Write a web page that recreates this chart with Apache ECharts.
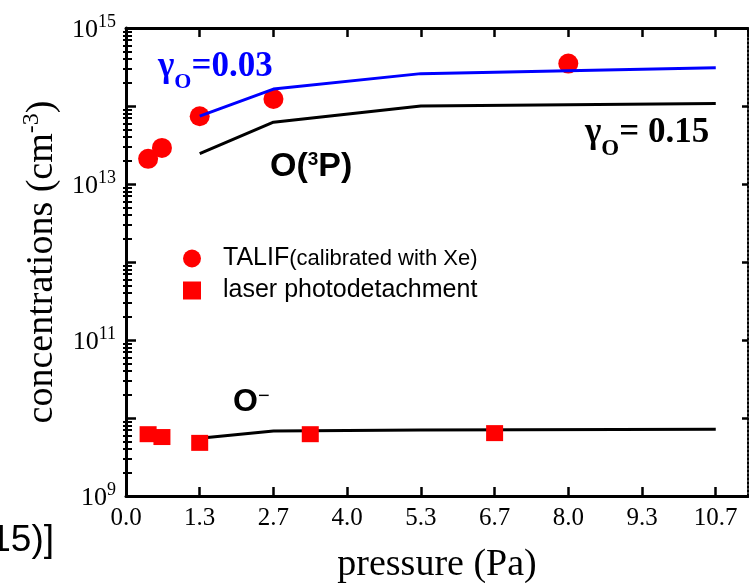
<!DOCTYPE html>
<html><head><meta charset="utf-8">
<script src="https://cdn.jsdelivr.net/npm/echarts@6/dist/echarts.min.js"></script>
<style>html,body{margin:0;padding:0;background:#fff}#c{width:749px;height:583px}</style>
</head><body><div id="c"></div>
<script>
// ---- data ----
const xTickLabels = ['0.0','1.3','2.7','4.0','5.3','6.7','8.0','9.3','10.7'];
const xTickStep = 4/3;            // Pa (10 mTorr)
const xMax = 11.25;
const talifX = [0.4, 0.65, 1.333, 2.667, 8.0];
const talifY = [2.1e13, 2.9e13, 7.4e13, 1.23e14, 3.5e14];
const photoX = [0.4, 0.65, 1.333, 3.333, 6.667];
const photoY = [6.2e9, 5.7e9, 4.8e9, 6.2e9, 6.4e9];
const modelX = [1.333, 2.667, 5.333, 10.667];
const modelO_g003 = [7.4e13, 1.65e14, 2.6e14, 3.1e14];
const modelO_g015 = [2.45e13, 6.2e13, 1.0e14, 1.08e14];
const modelOneg = [5.5e9, 6.8e9, 7.0e9, 7.2e9];
const yMajorTicks = [1e9, 1e10, 1e11, 1e12, 1e13, 1e14, 0.9999e15];
const yLabelValues = [1e9, 1e11, 1e13, 0.9999e15];
const yMinorTicks = [];
for (let d = 9; d < 15; d++) for (let m = 2; m <= 9; m++) yMinorTicks.push(m * Math.pow(10, d));

const SERIF = '"Liberation Serif", "Times New Roman", serif';
const SANS = '"Liberation Sans", Arial, sans-serif';
const zip = (xs, ys) => xs.map((x, i) => [x, ys[i]]);

const chart = echarts.init(document.getElementById('c'), null, {renderer: 'canvas'});
const baseY = {type: 'log', logBase: 10, min: 1e9, max: 1e15, splitLine: {show: false}, gridIndex: 0};
chart.setOption({
  animation: false,
  backgroundColor: '#fff',
  grid: {left: 126, right: 1, top: 28, bottom: 87, containLabel: false, outerBoundsMode: 'none'},
  legend: {
    data: ['TALIF', 'laser photodetachment'],
    orient: 'vertical', left: 178, top: 241, itemWidth: 18, itemHeight: 18, itemGap: 7,
    formatter: n => n === 'TALIF' ? '{a|TALIF}{b|(calibrated with Xe)}' : '{a|laser photodetachment}',
    textStyle: {
      rich: {
        a: {fontFamily: SANS, fontSize: 25, color: '#000', padding: [0, 0, 0, 17]},
        b: {fontFamily: SANS, fontSize: 22, color: '#000'}
      }
    }
  },
  xAxis: [{
    type: 'value', min: 0, max: xMax, interval: xTickStep,
    axisLine: {show: true, onZero: false, lineStyle: {color: '#000', width: 3}},
    axisTick: {inside: true, length: 9, lineStyle: {color: '#000', width: 2.5}},
    axisLabel: {
      formatter: v => { const i = Math.round(v / xTickStep); return Math.abs(v - i * xTickStep) < 1e-6 && xTickLabels[i] ? xTickLabels[i] : ''; },
      showMaxLabel: false, margin: 10, fontFamily: SERIF, fontSize: 25, color: '#000'
    },
    splitLine: {show: false},
    name: 'pressure (Pa)', nameLocation: 'middle', nameGap: 50,
    nameTextStyle: {fontFamily: SERIF, fontSize: 38, color: '#000'}
  }, {
    type: 'value', position: 'top', min: 0, max: xMax, interval: xTickStep,
    axisLine: {show: true, onZero: false, lineStyle: {color: '#000', width: 3}},
    axisTick: {inside: true, length: 9, lineStyle: {color: '#000', width: 2.5}},
    axisLabel: {show: false}, splitLine: {show: false}
  }],
  yAxis: [Object.assign({}, baseY, {
    position: 'left',
    axisLine: {show: true, onZero: false, lineStyle: {color: '#000', width: 3}},
    axisTick: {inside: true, length: 10, customValues: yMajorTicks, lineStyle: {color: '#000', width: 2.5}},
    axisLabel: {
      customValues: yLabelValues, margin: 10,
      formatter: v => '{b|10}{e|' + Math.round(Math.log10(v)) + '}',
      rich: {
        b: {fontFamily: SERIF, fontSize: 26, color: '#000', lineHeight: 30, padding: [4, 0, 0, 0]},
        e: {fontFamily: SERIF, fontSize: 18, color: '#000', verticalAlign: 'top'}
      }
    },
    name: '{a|concentrations (cm}{s|-3}{a|)}', nameLocation: 'middle', nameGap: 62, nameRotate: 90,
    nameTextStyle: {
      rich: {
        a: {fontFamily: SERIF, fontSize: 38, color: '#000', lineHeight: 44},
        s: {fontFamily: SERIF, fontSize: 24, color: '#000', verticalAlign: 'top'}
      }
    }
  }), Object.assign({}, baseY, {
    position: 'left',
    axisLine: {show: false},
    axisTick: {inside: true, length: 6, customValues: yMinorTicks, lineStyle: {color: '#000', width: 2}},
    axisLabel: {show: false}
  }), Object.assign({}, baseY, {
    position: 'right',
    axisLine: {show: true, onZero: false, lineStyle: {color: '#000', width: 2, type: 'dotted'}},
    axisTick: {inside: true, length: 6, customValues: yMajorTicks, lineStyle: {color: '#000', width: 2.5}},
    axisLabel: {show: false}
  }), Object.assign({}, baseY, {
    position: 'right',
    axisLine: {show: false},
    axisTick: {inside: true, length: 3, customValues: yMinorTicks, lineStyle: {color: '#000', width: 2}},
    axisLabel: {show: false}
  })],
  series: [
    {name: 'TALIF', type: 'scatter', data: zip(talifX, talifY), symbol: 'circle', symbolSize: 20,
      itemStyle: {color: '#ff0000', opacity: 1}, z: 2},
    {name: 'gamma 0.03', type: 'line', data: zip(modelX, modelO_g003), symbol: 'none',
      lineStyle: {color: '#0000ff', width: 3}, z: 3},
    {name: 'gamma 0.15', type: 'line', data: zip(modelX, modelO_g015), symbol: 'none',
      lineStyle: {color: '#000', width: 3}, z: 2},
    {name: 'O- model', type: 'line', data: zip(modelX, modelOneg), symbol: 'none',
      lineStyle: {color: '#000', width: 3}, z: 2},
    {name: 'laser photodetachment', type: 'scatter', data: zip(photoX, photoY), symbol: 'rect', symbolSize: [17, 16],
      itemStyle: {color: '#ff0000', opacity: 1}, z: 4}
  ],
  graphic: [
    {type: 'text', x: 158, y: 49, style: {
      text: '{g|γ}{s|O}{g|=0.03}',
      rich: {
        g: {fontFamily: SERIF, fontWeight: 'bold', fontSize: 35, fill: '#0000ff', lineHeight: 35, verticalAlign: 'top'},
        s: {fontFamily: SERIF, fontWeight: 'bold', fontSize: 22, fill: '#0000ff', lineHeight: 22, verticalAlign: 'top', padding: [22, 0, 0, 0]}
      }}},
    {type: 'text', x: 585, y: 115, style: {
      text: '{g|γ}{s|O}{g|= 0.15}',
      rich: {
        g: {fontFamily: SERIF, fontWeight: 'bold', fontSize: 35, fill: '#000', lineHeight: 35, verticalAlign: 'top'},
        s: {fontFamily: SERIF, fontWeight: 'bold', fontSize: 23, fill: '#000', lineHeight: 23, verticalAlign: 'top', padding: [23, 0, 0, 0]}
      }}},
    {type: 'text', x: 270, y: 150, style: {
      text: '{a|O(}{s|3}{a|P)}',
      rich: {
        a: {fontFamily: SANS, fontWeight: 'bold', fontSize: 34, fill: '#000', lineHeight: 34, verticalAlign: 'top'},
        s: {fontFamily: SANS, fontWeight: 'bold', fontSize: 19, fill: '#000', lineHeight: 19, verticalAlign: 'top'}
      }}},
    {type: 'text', x: 233, y: 386, style: {
      text: '{a|O}{s|−}',
      rich: {
        a: {fontFamily: SANS, fontWeight: 'bold', fontSize: 32, fill: '#000', lineHeight: 32, verticalAlign: 'top'},
        s: {fontFamily: SANS, fontWeight: 'normal', fontSize: 20, fill: '#000', lineHeight: 20, verticalAlign: 'top'}
      }}},
    {type: 'text', x: 54, y: 541, style: {
      text: '15)]', align: 'right', verticalAlign: 'middle',
      font: '37px ' + SANS, fill: '#000'
    }}
  ]
});
</script></body></html>
